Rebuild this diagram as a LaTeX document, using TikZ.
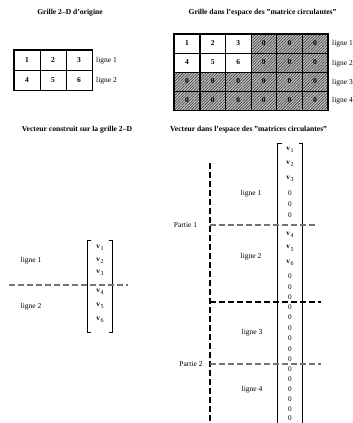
\documentclass[tikz,border=0pt]{standalone}
\usepackage{fontspec}
\setmainfont{Liberation Serif}
\usetikzlibrary{patterns.meta}
\newcommand{\vsub}[1]{\textbf{v}\kern0.6pt\raisebox{-0.8ex}{\fontsize{6}{6}\selectfont #1}}
\begin{document}
\begin{tikzpicture}[x=1pt,y=-1pt,
  txt/.style={font=\fontsize{7.5}{9}\selectfont, inner sep=0},
  ttl/.style={font=\fontsize{7.6}{9}\selectfont\bfseries, inner sep=0},
  cell/.style={draw, line width=0.8pt, minimum width=26pt, minimum height=20pt, inner sep=0, font=\fontsize{7.5}{9}\selectfont\bfseries},
  cellb/.style={cell, minimum width=25.57pt, minimum height=19pt},
  hatch/.style={preaction={fill=gray!50}, preaction={pattern={Lines[angle=45,distance=2pt,line width=0.55pt]}, pattern color=black!80}},
  gdash/.style={draw=black!55, line width=1.2pt, dash pattern=on 6pt off 3pt},
  kdash/.style={draw=black, line width=1.5pt, dash pattern=on 6pt off 3pt},
  ent/.style={font=\fontsize{7.2}{8}\selectfont, inner sep=0},
]
\useasboundingbox (0,0) rectangle (353,423);

% titles
\node[ttl] (t1) at (70,13) {Grille 2--D d'origine};
\node[ttl] (t2) at (262.5,13) {Grille dans l'espace des "matrice circulantes"};
\node[ttl] (t3) at (77,130) {Vecteur construit sur la grille 2--D};
\node[ttl, anchor=west] (t4) at (170,130) {Vecteur dans l'espace des "matrices circulantes"};

% grid 1
\node[cell] (a11) at (27,60) {1};
\node[cell] (a12) at (53,60) {2};
\node[cell] (a13) at (79,60) {3};
\node[cell] (a21) at (27,80) {4};
\node[cell] (a22) at (53,80) {5};
\node[cell] (a23) at (79,80) {6};
\draw[line width=1.1pt] (a11.north west) rectangle (a23.south east);
\node[txt, anchor=west] (al1) at (96,61) {ligne 1};
\node[txt, anchor=west] (al2) at (96,81) {ligne 2};

% grid 2
\foreach \c/\x in {1/187.1,2/212.7,3/238.2}{
  \node[cellb] (b1\c) at (\x,43.5) {\the\numexpr\c\relax};
  \node[cellb] (b2\c) at (\x,62.5) {\the\numexpr\c+3\relax};
}
\foreach \c/\x in {4/263.8,5/289.4,6/314.9}{
  \node[cellb, hatch] (b1\c) at (\x,43.5) {0};
  \node[cellb, hatch] (b2\c) at (\x,62.5) {0};
}
\foreach \c/\x in {1/187.1,2/212.7,3/238.2,4/263.8,5/289.4,6/314.9}{
  \node[cellb, hatch] (b3\c) at (\x,81.5) {0};
  \node[cellb, hatch] (b4\c) at (\x,100.5) {0};
}
\draw[line width=1.2pt] (b11.north west) rectangle (b46.south east);
\node[txt, anchor=west] (bl1) at (332,44) {ligne 1};
\node[txt, anchor=west] (bl2) at (332,64) {ligne 2};
\node[txt, anchor=west] (bl3) at (332,83) {ligne 3};
\node[txt, anchor=west] (bl4) at (332,101) {ligne 4};

% left vector
\draw[line width=0.8pt] (91.3,240) -- (87.3,240) -- (87.3,332) -- (91.3,332);
\draw[line width=0.8pt] (108.7,240) -- (112.7,240) -- (112.7,332) -- (108.7,332);
\node[ent] (l1) at (100,248) {\vsub{1}};
\node[ent] (l2) at (100,261) {\vsub{2}};
\node[ent] (l3) at (100,273) {\vsub{3}};
\node[ent] (l4) at (100,292) {\vsub{4}};
\node[ent] (l5) at (100,306) {\vsub{5}};
\node[ent] (l6) at (100,320) {\vsub{6}};
\draw[gdash] (9,285) -- (128,285);
\node[txt] (ll1) at (31,261) {ligne 1};
\node[txt] (ll2) at (31,307) {ligne 2};

% right vector
\draw[line width=0.8pt] (281.7,143) -- (277.7,143) -- (277.7,430);
\draw[line width=0.8pt] (298.7,143) -- (302.7,143) -- (302.7,430);
\node[ent] (r1) at (290,150) {\vsub{1}};
\node[ent] (r2) at (290,164) {\vsub{2}};
\node[ent] (r3) at (290,179) {\vsub{3}};
\node[ent] (r4) at (290,193) {0};
\node[ent] (r5) at (290,204) {0};
\node[ent] (r6) at (290,215) {0};
\node[ent] (r7) at (290,235) {\vsub{4}};
\node[ent] (r8) at (290,248.5) {\vsub{5}};
\node[ent] (r9) at (290,263) {\vsub{6}};
\node[ent] (r10) at (290,276.5) {0};
\node[ent] (r11) at (290,287) {0};
\node[ent] (r12) at (290,297) {0};
\foreach \i/\y in {13/307,14/317.5,15/328,16/338.5,17/349,18/359.5,19/369.5,20/379.5,21/389.5,22/399.5,23/409,24/418.5}{
  \node[ent] (r\i) at (290,\y) {0};
}
\draw[kdash] (210,163) -- (210,430);
\draw[gdash] (210,225) -- (318,225);
\draw[kdash] (210,302) -- (321,302);
\draw[gdash] (210,364) -- (321,364);
\node[txt] (p1) at (185.5,225) {Partie 1};
\node[txt] (p2) at (191,364.5) {Partie 2};
\node[txt] (rl1) at (251,194) {ligne 1};
\node[txt] (rl2) at (251,257) {ligne 2};
\node[txt] (rl3) at (252,333) {ligne 3};
\node[txt] (rl4) at (252,390) {ligne 4};
\end{tikzpicture}
\end{document}
